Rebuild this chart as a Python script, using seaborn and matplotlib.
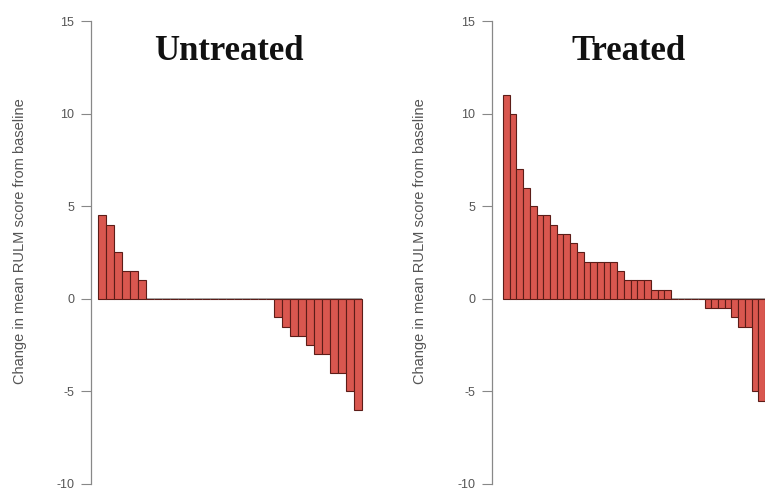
import numpy as np
import matplotlib
matplotlib.use("Agg")
import matplotlib.pyplot as plt
import seaborn as sns

# change in mean RULM score per patient, sorted
untreated = [4.5, 4.0, 2.5, 1.5, 1.5, 1.0] + [0.0] * 16 + \
    [-1.0, -1.5, -2.0, -2.0, -2.5, -3.0, -3.0, -4.0, -4.0, -5.0, -6.0]
treated = [11.0, 10.0, 7.0, 6.0, 5.0, 4.5, 4.5, 4.0, 3.5, 3.5, 3.0, 2.5,
           2.0, 2.0, 2.0, 2.0, 2.0, 1.5, 1.0, 1.0, 1.0, 1.0, 0.5, 0.5, 0.5] + \
    [0.0] * 5 + [-0.5, -0.5, -0.5, -0.5, -1.0, -1.5, -1.5, -5.0, -5.5]

titles = ["Untreated", "Treated"]
yticks = [-10, -5, 0, 5, 10, 15]
ylabel = "Change in mean RULM score from baseline"

sns.set_style("white")
plt.rcParams["font.family"] = ["Liberation Sans", "DejaVu Sans"]

fig = plt.figure(figsize=(7.65, 4.91), dpi=100)
W, H = 765, 491
top, bottom = 21, 484

# (values, axes left px, axes right px, pad before first bar, pad after last bar, label x px)
panels = [
    (untreated, 91, 366, 0.88, 0.5, 27),
    (treated, 492, 765, 1.64, 0.0, 427),
]

bar_col = "#d9574f"
edge_col = "#5c1d18"
grey = "#555555"

for (vals, x0, x1, lpad, rpad, lx), title in zip(panels, titles):
    ax = fig.add_axes([x0 / W, 1 - bottom / H, (x1 - x0) / W, (bottom - top) / H])
    n = len(vals)
    sns.barplot(x=np.arange(n), y=vals, color=bar_col, saturation=1, width=1.0,
                edgecolor=edge_col, linewidth=0.8, ax=ax)
    ax.hlines(0, -0.5, n - 0.5, color="#999999", lw=1.2, zorder=0)
    ax.set_xlim(-0.5 - lpad, n - 0.5 + rpad)
    ax.set_ylim(-10, 15)
    ax.set_xticks([])
    ax.set_xlabel("")
    ax.set_yticks(yticks)
    ax.set_yticklabels([str(t) for t in yticks], fontsize=9, color=grey)
    ax.tick_params(axis="y", left=True, length=7, width=0.8, color="#888888", pad=5)
    for s in ["top", "right", "bottom"]:
        ax.spines[s].set_visible(False)
    ax.spines["left"].set_color("#888888")
    ax.spines["left"].set_linewidth(0.9)
    ax.set_ylabel(ylabel, fontsize=10.5, color=grey)
    ax.yaxis.set_label_coords((lx - x0) / (x1 - x0), (bottom - 241) / (bottom - top))
    ax.text(0.5, 0.935, title, transform=ax.transAxes, ha="center", va="center",
            fontsize=25, fontweight="bold", family="Liberation Serif", color="#111111")
    ax.patch.set_alpha(0)

fig.savefig("out.png", dpi=100)
